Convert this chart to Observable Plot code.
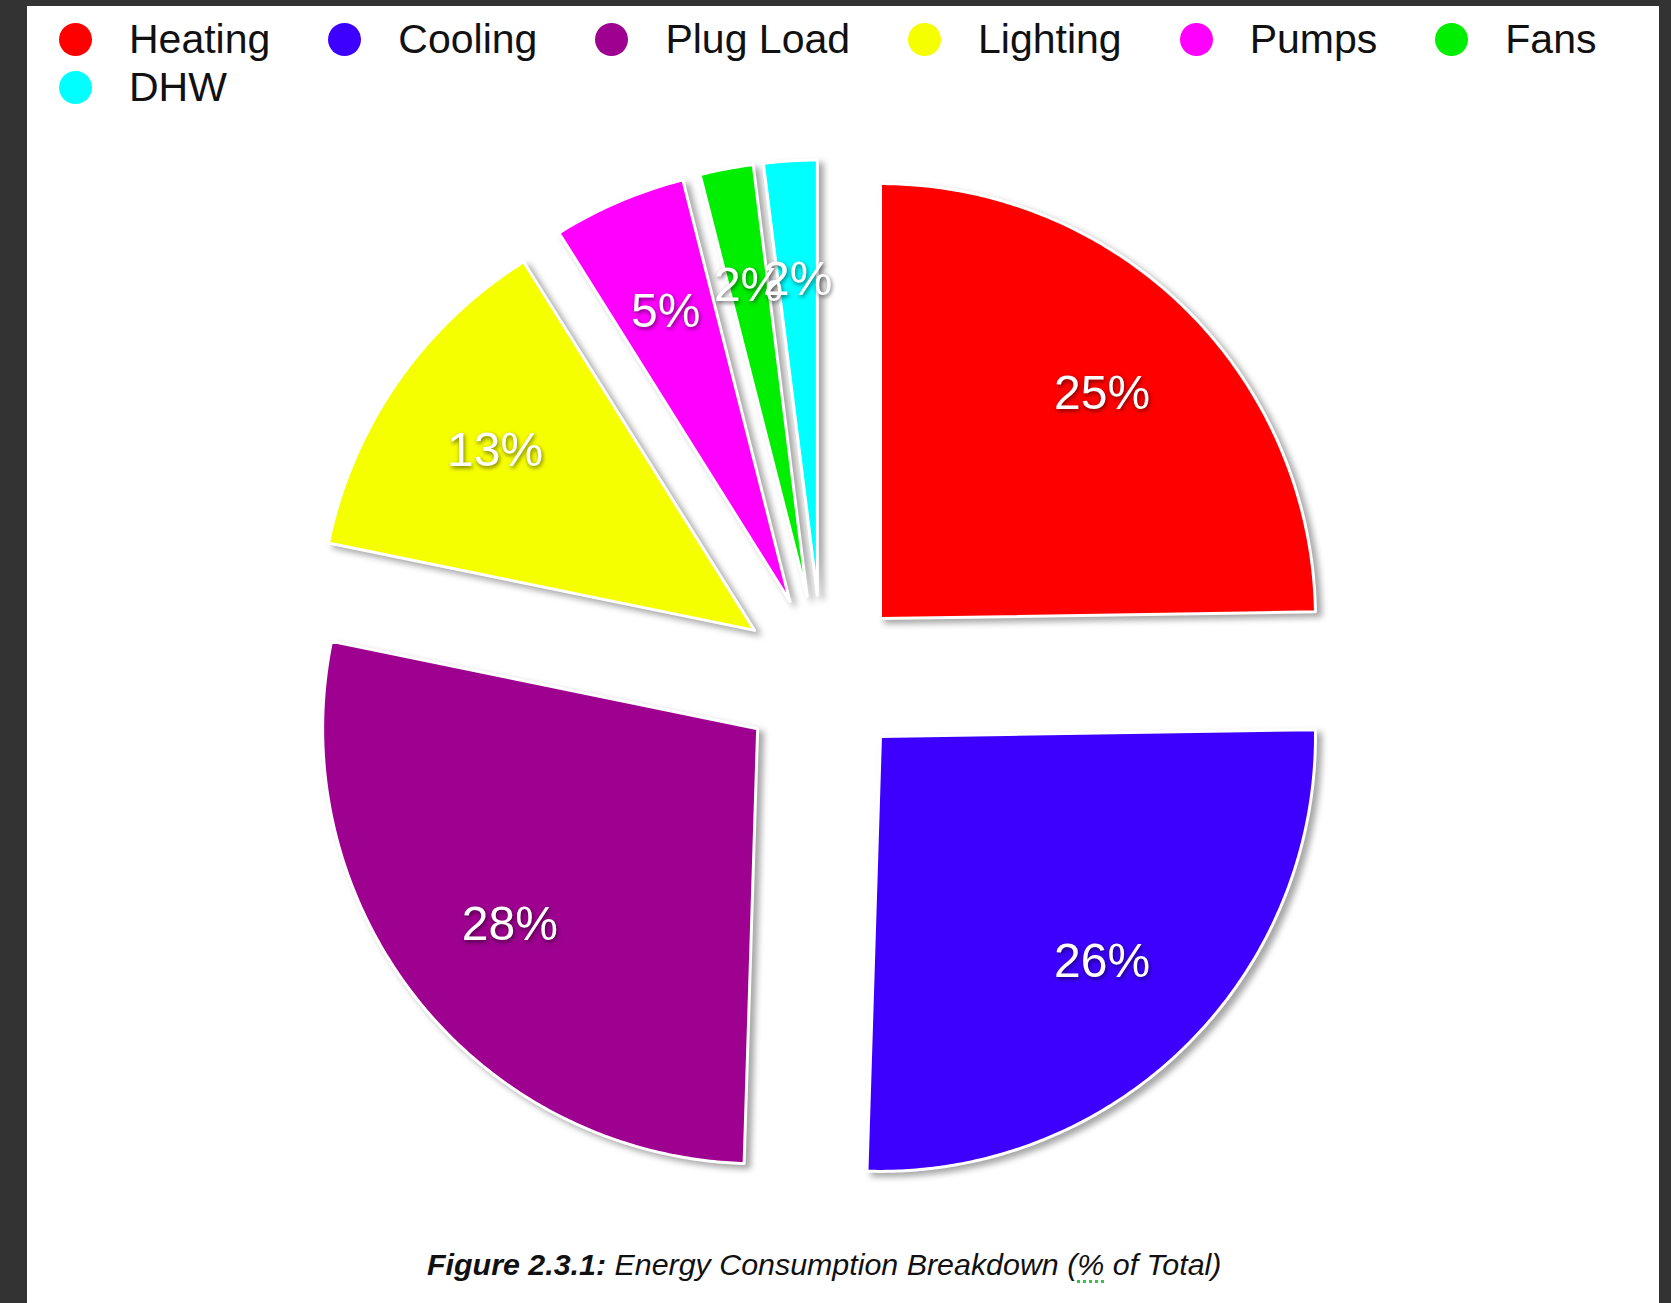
<!DOCTYPE html>
<html>
<head>
<meta charset="utf-8">
<script src="https://cdn.jsdelivr.net/npm/d3@7"></script>
<script src="https://cdn.jsdelivr.net/npm/@observablehq/plot@0.6"></script>
<style>
  html, body { margin: 0; padding: 0; background: #333333; width: 1671px; height: 1303px; overflow: hidden; }
  #panel { position: absolute; left: 27px; top: 6px; width: 1632px; height: 1297px; background: #ffffff;
           font-family: "Liberation Sans", Arial, Helvetica, sans-serif; }
  #legend { position: absolute; left: 32px; top: 9px; width: 1600px; display: flex; flex-wrap: wrap; column-gap: 58px; }
  .item { display: flex; align-items: center; height: 48px; font-size: 41px; color: #111; white-space: nowrap; }
  .sw { width: 33px; height: 33px; border-radius: 50%; margin-right: 37px; flex: none; }
  #chart { position: absolute; left: 0; top: 114px; }
  #caption { position: absolute; left: 400px; top: 1240px; font-size: 30.4px; line-height: 36px; font-style: italic; color: #111; white-space: nowrap; }
  #caption .pct { text-decoration: underline dotted #3cbf4a; text-decoration-thickness: 3px; text-underline-offset: 5px; }
</style>
</head>
<body>
<div id="panel">
  <div id="legend"></div>
  <div id="chart"></div>
  <div id="caption"><b>Figure 2.3.1:</b> Energy Consumption Breakdown (<span class="pct">%</span> of Total)</div>
</div>
<script>
// Energy use by end use, percent of total
const categories = ["Heating", "Cooling", "Plug Load", "Lighting", "Pumps", "Fans", "DHW"];
const shares = [25, 26, 28, 13, 5, 2, 2];
const colors = ["#ff0000", "#3d00ff", "#9e008f", "#f6ff00", "#ff00ff", "#00ee00", "#00ffff"];

// Pie geometry (SVG pixels): centre, radius, how far each wedge is pulled out
const cx = 795, cy = 557, R = 435;
const explode = 0.19;      // in radius units
const labelRadius = 0.726; // distance of the label from the wedge's own apex

// Legend with round swatches
const legend = document.getElementById("legend");
categories.forEach((c, i) => {
  const item = document.createElement("div");
  item.className = "item";
  const sw = document.createElement("span");
  sw.className = "sw";
  sw.style.background = colors[i];
  item.appendChild(sw);
  item.appendChild(document.createTextNode(c));
  legend.appendChild(item);
});

// Wedge outlines and label anchors in unit-circle coordinates (y up)
const arcs = d3.pie().sort(null).value(d => d)(shares);
const wedgePoints = [];
const labels = [];
arcs.forEach((a, i) => {
  const mid = (a.startAngle + a.endAngle) / 2;
  const ox = explode * Math.sin(mid), oy = explode * Math.cos(mid);
  const apex = {category: categories[i], x: ox, y: oy};
  wedgePoints.push(apex);
  const steps = Math.max(4, Math.ceil((a.endAngle - a.startAngle) / (Math.PI / 360)));
  for (let k = 0; k <= steps; ++k) {
    const t = a.startAngle + (a.endAngle - a.startAngle) * k / steps;
    wedgePoints.push({category: categories[i], x: ox + Math.sin(t), y: oy + Math.cos(t)});
  }
  wedgePoints.push({...apex});
  labels.push({
    category: categories[i],
    x: ox + labelRadius * Math.sin(mid),
    y: oy + labelRadius * Math.cos(mid),
    text: `${shares[i]}%`
  });
});

const chart = Plot.plot({
  width: 1632,
  height: 1110,
  margin: 0,
  x: {domain: [-1, 1], range: [cx - R, cx + R], axis: null},
  y: {domain: [-1, 1], range: [cy + R, cy - R], axis: null},
  color: {domain: categories, range: colors},
  style: {background: "transparent", overflow: "visible"},
  marks: [
    Plot.line(wedgePoints, {
      x: "x", y: "y", z: "category", fill: "category",
      stroke: "white", strokeWidth: 3, strokeLinejoin: "round", curve: "linear"
    }),
    Plot.text(labels, {
      x: "x", y: "y", text: "text",
      fill: "white", fontSize: 48,
      fontFamily: "'Liberation Sans', Arial, Helvetica, sans-serif",
      textAnchor: "middle", lineAnchor: "middle"
    })
  ]
});

const wedges = chart.querySelector('g[aria-label="line"]');
if (wedges) wedges.style.filter = "drop-shadow(5px 4px 3px rgba(0,0,0,0.35))";
const texts = chart.querySelector('g[aria-label="text"]');
if (texts) texts.style.filter = "drop-shadow(1px 2px 2px rgba(0,0,0,0.55))";

document.getElementById("chart").appendChild(chart);
</script>
</body>
</html>
